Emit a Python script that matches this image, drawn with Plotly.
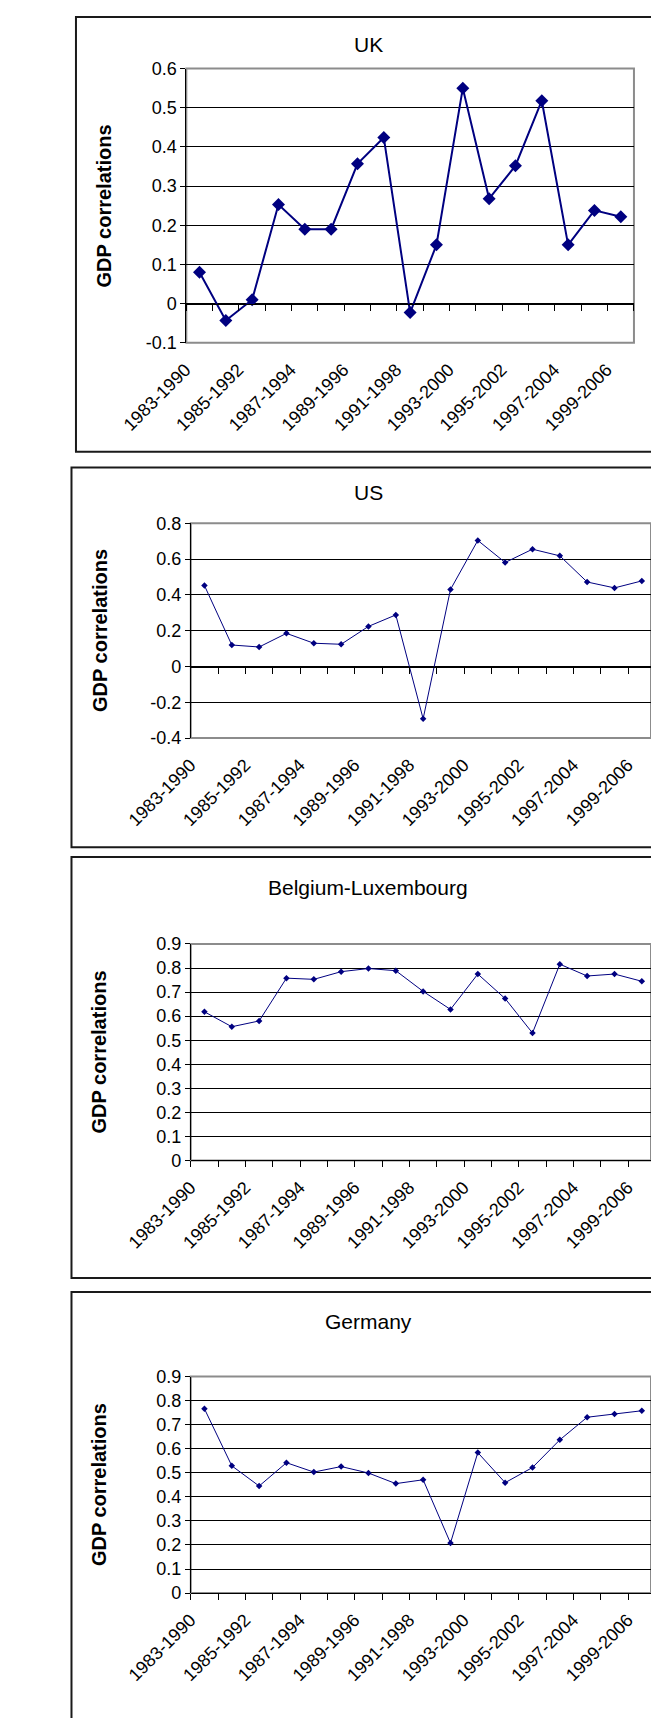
import plotly.graph_objects as go

# ---------------- data ----------------
periods = ["1983-1990", "1984-1991", "1985-1992", "1986-1993", "1987-1994", "1988-1995",
           "1989-1996", "1990-1997", "1991-1998", "1992-1999", "1993-2000", "1994-2001",
           "1995-2002", "1996-2003", "1997-2004", "1998-2005", "1999-2006"]
x_tick_labels = ["1983-1990", "1985-1992", "1987-1994", "1989-1996", "1991-1998",
                 "1993-2000", "1995-2002", "1997-2004", "1999-2006"]

uk_corr = [0.08, -0.043, 0.01, 0.253, 0.19, 0.19, 0.357, 0.424, -0.023, 0.15,
           0.55, 0.268, 0.352, 0.518, 0.15, 0.238, 0.222]
us_corr = [0.452, 0.12, 0.109, 0.185, 0.13, 0.124, 0.224, 0.288, -0.292, 0.43,
           0.704, 0.581, 0.655, 0.618, 0.472, 0.439, 0.478]
be_corr = [0.618, 0.556, 0.58, 0.758, 0.753, 0.785, 0.798, 0.789, 0.703, 0.628,
           0.775, 0.673, 0.530, 0.816, 0.767, 0.775, 0.745]
de_corr = [0.766, 0.529, 0.445, 0.542, 0.503, 0.526, 0.499, 0.455, 0.471, 0.208,
           0.584, 0.459, 0.522, 0.637, 0.731, 0.744, 0.758]

uk_yticks = [-0.1, 0, 0.1, 0.2, 0.3, 0.4, 0.5, 0.6]
uk_ytext = ["-0.1", "0", "0.1", "0.2", "0.3", "0.4", "0.5", "0.6"]
us_yticks = [-0.4, -0.2, 0, 0.2, 0.4, 0.6, 0.8]
us_ytext = ["-0.4", "-0.2", "0", "0.2", "0.4", "0.6", "0.8"]
eu_yticks = [0, 0.1, 0.2, 0.3, 0.4, 0.5, 0.6, 0.7, 0.8, 0.9]
eu_ytext = ["0", "0.1", "0.2", "0.3", "0.4", "0.5", "0.6", "0.7", "0.8", "0.9"]

titles = ["UK", "US", "Belgium-Luxembourg", "Germany"]
y_title = "GDP correlations"

# ---------------- layout geometry (pixels) ----------------
W, H = 651, 1718
FONT = "Arial, Liberation Sans, sans-serif"
NAVY = "#000080"


def py(p):
    return 1 - p / H


panels = [
    dict(vals=uk_corr, yt=uk_yticks, ytx=uk_ytext, rng=[-0.1, 0.6],
         plot=(133, 632, 59.3, 336.7), box=(10, 7, 447), ty=35, yx=41, ms=10, lw=2),
    dict(vals=us_corr, yt=us_yticks, ytx=us_ytext, rng=[-0.4, 0.8],
         plot=(138, 656, 519.3, 736.7), box=(5, 463, 847), ty=488, yx=36, ms=5, lw=1),
    dict(vals=be_corr, yt=eu_yticks, ytx=eu_ytext, rng=[0, 0.9],
         plot=(138, 656, 945, 1164), box=(5, 857, 1283), ty=888, yx=36, ms=5, lw=1),
    dict(vals=de_corr, yt=eu_yticks, ytx=eu_ytext, rng=[0, 0.9],
         plot=(138, 656, 1382.7, 1601.7), box=(5, 1297, 1740), ty=1327, yx=36, ms=5, lw=1),
]

fig = go.Figure()
layout = dict(width=W, height=H, autosize=False, margin=dict(l=0, r=0, t=0, b=0),
              paper_bgcolor="white", plot_bgcolor="white", showlegend=False)
shapes = []
annotations = []
n = len(periods)

for i, p in enumerate(panels, start=1):
    left, right, top, bottom = p["plot"]
    ncat_px = (right - left) / n
    x_end = min(right, W)
    xr = [-0.5, -0.5 + (x_end - left) / ncat_px]
    xd = [left / W, x_end / W]
    yd = [py(bottom), py(top)]
    xa = "x" if i == 1 else f"x{i}"
    ya = "y" if i == 1 else f"y{i}"
    tick_id = i + 4
    xa_t = f"x{tick_id}"

    fig.add_trace(go.Scatter(
        x=periods, y=p["vals"], mode="lines+markers", xaxis=xa, yaxis=ya,
        line=dict(color=NAVY, width=p["lw"]),
        marker=dict(symbol="diamond", size=p["ms"], color=NAVY),
        hoverinfo="x+y"))
    # transparent copy to activate the tick-mark axis that crosses at zero
    fig.add_trace(go.Scatter(
        x=periods, y=p["vals"], mode="lines", xaxis=xa_t, yaxis=ya,
        line=dict(color="rgba(0,0,0,0)", width=0), hoverinfo="skip"))

    r0, r1 = p["rng"]
    zero_pos = yd[0] + (0 - r0) / (r1 - r0) * (yd[1] - yd[0])

    layout["xaxis" if i == 1 else f"xaxis{i}"] = dict(
        domain=xd, range=xr, type="category", categoryorder="array", categoryarray=periods,
        tickmode="array", tickvals=x_tick_labels, ticktext=x_tick_labels, tickangle=-45,
        showline=False, showgrid=False, zeroline=False, ticks="",
        tickfont=dict(family=FONT, size=18, color="black"), anchor=ya,
        ticklabelstandoff=12, ticklabelshift=-14)
    layout[f"xaxis{tick_id}"] = dict(
        domain=xd, range=xr, type="category", categoryorder="array", categoryarray=periods,
        overlaying=xa, anchor="free", position=zero_pos,
        tickmode="linear", tick0=0, dtick=1, tickson="boundaries",
        ticks="outside", ticklen=6, tickcolor="black", tickwidth=1,
        showticklabels=False, showline=True, linecolor="black", linewidth=1,
        showgrid=False, zeroline=False)
    layout["yaxis" if i == 1 else f"yaxis{i}"] = dict(
        domain=yd, range=p["rng"], tickmode="array", tickvals=p["yt"], ticktext=p["ytx"],
        showline=True, linecolor="black", linewidth=1, ticks="outside", ticklen=5,
        tickcolor="black", showgrid=True, gridcolor="black", gridwidth=1, zeroline=False,
        tickfont=dict(family=FONT, size=18, color="black"), anchor=xa)

    # grey plot-area border
    shapes.append(dict(type="rect", xref=f"{xa} domain", yref=f"{ya} domain",
                       x0=0, x1=1, y0=0, y1=1, line=dict(color="#8c8c8c", width=2),
                       layer="below"))
    # chart-area frame
    bl, bt, bb = p["box"]
    shapes.append(dict(type="rect", xref="paper", yref="paper",
                       x0=bl / W, x1=1.03, y0=py(bb), y1=py(bt),
                       line=dict(color="#1a1a1a", width=2)))
    annotations.append(dict(text=titles[i - 1], xref="paper", yref="paper",
                            x=336 / W, y=py(p["ty"]), showarrow=False,
                            xanchor="center", yanchor="middle",
                            font=dict(family=FONT, size=21, color="black")))
    annotations.append(dict(text=f"<b>{y_title}</b>", xref="paper", yref="paper",
                            x=p["yx"] / W, y=(yd[0] + yd[1]) / 2, showarrow=False,
                            textangle=-90, xanchor="center", yanchor="middle",
                            font=dict(family=FONT, size=20, color="black")))

layout["shapes"] = shapes
layout["annotations"] = annotations
fig.update_layout(**layout)

fig.write_html("out.html", config={"displayModeBar": False},
               post_script="document.body.style.margin='0';")
